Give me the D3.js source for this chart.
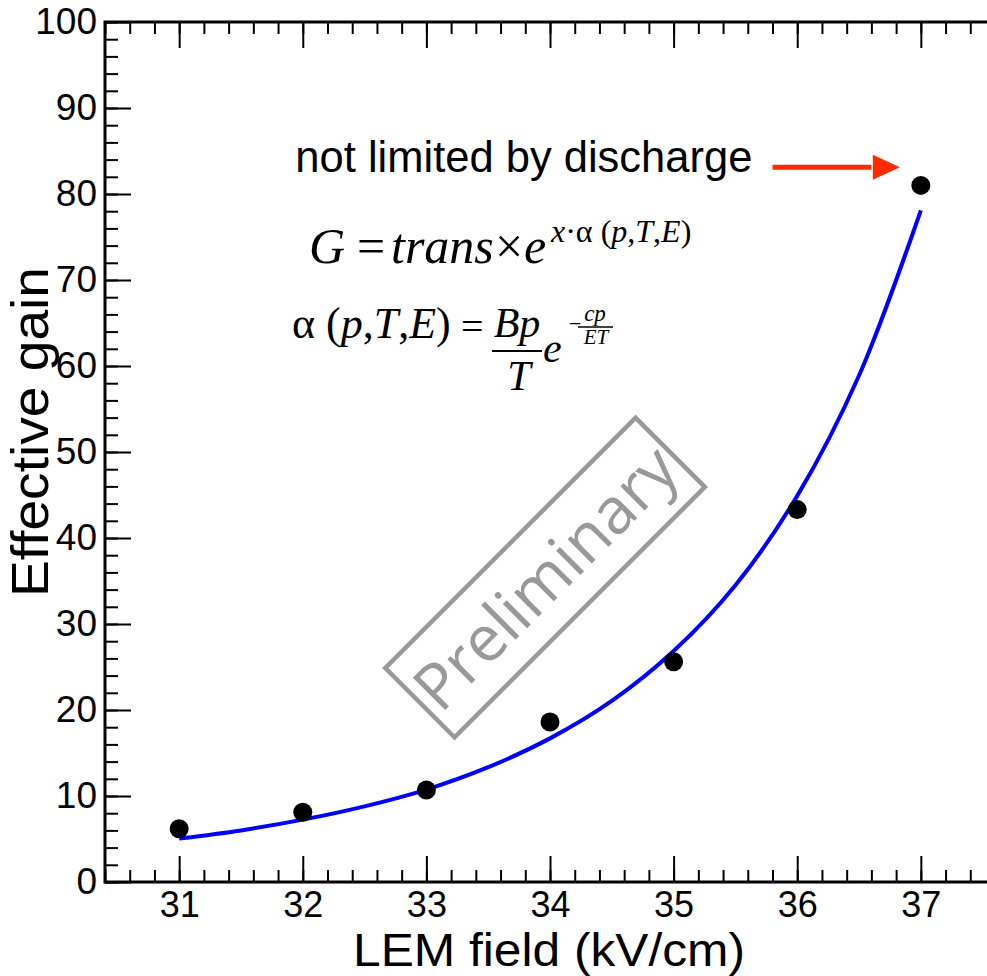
<!DOCTYPE html>
<html>
<head>
<meta charset="utf-8">
<script src="https://cdn.jsdelivr.net/npm/d3@7"></script>
<style>
  html, body { margin: 0; padding: 0; background: #fff; }
  svg { display: block; }
  .sans { font-family: "Liberation Sans", Arial, Helvetica, sans-serif; }
  .serif { font-family: "Liberation Serif", "Times New Roman", serif; }
</style>
</head>
<body>
<svg id="chart" width="987" height="976"></svg>
<script>
// LEM field (kV/cm) and measured effective gain
const fieldKV = [31, 32, 33, 34, 35, 36, 37];
const gain = [6.2, 8.1, 10.7, 18.6, 25.6, 43.3, 81.0];

// fitted gain curve, sampled along the field axis
const fitField = [31, 31.5, 32, 32.5, 33, 33.5, 34, 34.5, 35, 35.5, 36, 36.5, 37];
const fitGain = [5.05, 6.0, 7.25, 8.8, 10.75, 13.35, 16.7, 21.05, 26.85, 34.5, 44.9, 58.9, 78.1];

// axis ticks
const xMajor = [31, 32, 33, 34, 35, 36, 37];
const xMinor = d3.range(0, 37).map(i => +(30.4 + 0.2 * i).toFixed(1));
const yMajor = [0, 10, 20, 30, 40, 50, 60, 70, 80, 90, 100];
const yMinor = d3.range(0, 51).map(i => 2 * i);

const margin = { left: 105, top: 22 };
const plotW = 890, plotH = 860;

const svg = d3.select("#chart");
const x = d3.scaleLinear().domain([30.4, 37.6]).range([margin.left, margin.left + plotW]);
const y = d3.scaleLinear().domain([0, 100]).range([margin.top + plotH, margin.top]);

const x0 = margin.left;
const y0 = margin.top + plotH, y1 = margin.top;

function styleAxis(g, fontSize) {
  g.select(".domain").remove();
  g.selectAll(".tick line").attr("stroke", "#000").attr("stroke-width", 2);
  g.selectAll(".tick text")
    .attr("class", "sans")
    .attr("fill", "#000")
    .style("font-size", fontSize + "px");
}

// bottom axis: minor and major ticks pointing inward
svg.append("g").attr("transform", `translate(0,${y0})`)
  .call(d3.axisBottom(x).tickValues(xMinor).tickSize(-12).tickFormat(""))
  .call(g => styleAxis(g, 36));
svg.append("g").attr("transform", `translate(0,${y0})`)
  .call(d3.axisBottom(x).tickValues(xMajor).tickSize(-26).tickPadding(9).tickFormat(d3.format("d")))
  .call(g => styleAxis(g, 36));

// top axis: ticks only
svg.append("g").attr("transform", `translate(0,${y1})`)
  .call(d3.axisTop(x).tickValues(xMinor).tickSize(-12).tickFormat(""))
  .call(g => styleAxis(g, 36));
svg.append("g").attr("transform", `translate(0,${y1})`)
  .call(d3.axisTop(x).tickValues(xMajor).tickSize(-26).tickFormat(""))
  .call(g => styleAxis(g, 36));

// left axis
svg.append("g").attr("transform", `translate(${x0},0)`)
  .call(d3.axisLeft(y).tickValues(yMinor).tickSize(-13).tickFormat(""))
  .call(g => styleAxis(g, 37));
svg.append("g").attr("transform", `translate(${x0},0)`)
  .call(d3.axisLeft(y).tickValues(yMajor).tickSize(-26).tickPadding(8).tickFormat(d3.format("d")))
  .call(g => styleAxis(g, 37));

// frame
svg.append("rect")
  .attr("x", x0).attr("y", y1)
  .attr("width", plotW).attr("height", plotH)
  .attr("fill", "none").attr("stroke", "#000").attr("stroke-width", 3);

// axis titles
svg.append("text").attr("class", "sans")
  .attr("x", 549).attr("y", 966)
  .attr("text-anchor", "middle")
  .attr("textLength", 392).attr("lengthAdjust", "spacingAndGlyphs")
  .style("font-size", "46px")
  .text("LEM field (kV/cm)");

svg.append("text").attr("class", "sans")
  .attr("transform", "translate(48,432) rotate(-90)")
  .attr("text-anchor", "middle")
  .attr("textLength", 330).attr("lengthAdjust", "spacingAndGlyphs")
  .style("font-size", "52px")
  .text("Effective gain");

// "Preliminary" stamp
const stamp = svg.append("g")
  .attr("transform", `translate(${x(33.96)},${y(35.4)}) rotate(-45)`);
stamp.append("rect")
  .attr("x", -177).attr("y", -49).attr("width", 354).attr("height", 98)
  .attr("fill", "none").attr("stroke", "#999").attr("stroke-width", 4.5);
stamp.append("text")
  .attr("text-anchor", "middle")
  .attr("y", 23)
  .style("font-family", "'Open Sans', 'DejaVu Sans', sans-serif")
  .style("font-size", "64px")
  .attr("fill", "#999")
  .text("Preliminary");

// fit curve
const line = d3.line()
  .x((d, i) => x(fitField[i]))
  .y(d => y(d))
  .curve(d3.curveCatmullRom.alpha(0.5));
svg.append("path")
  .datum(fitGain)
  .attr("d", line)
  .attr("fill", "none")
  .attr("stroke", "#0000ff")
  .attr("stroke-width", 4);

// measured points
svg.append("g").selectAll("circle")
  .data(gain)
  .join("circle")
  .attr("cx", (d, i) => x(fieldKV[i]))
  .attr("cy", d => y(d))
  .attr("r", 9.5)
  .attr("fill", "#000");

// discharge annotation with arrow
svg.append("text").attr("class", "sans")
  .attr("x", x(31.94)).attr("y", y(82.6))
  .style("font-size", "43.5px")
  .text("not limited by discharge");

const ay = y(83.1);
svg.append("line")
  .attr("x1", x(35.8)).attr("x2", x(36.6))
  .attr("y1", ay).attr("y2", ay)
  .attr("stroke", "#ff2a00").attr("stroke-width", 5);
const tip = x(36.83);
svg.append("path")
  .attr("d", `M${tip},${ay} L${tip - 27},${ay - 12.5} L${tip - 27},${ay + 12.5} Z`)
  .attr("fill", "#ff2a00");

// helper for placing formula pieces
function put(g, tx, px, py, size, italic, anchor) {
  const t = g.append("text").attr("x", px).attr("y", py)
    .style("font-size", size + "px").text(tx);
  if (italic) t.style("font-style", "italic");
  if (anchor) t.attr("text-anchor", anchor);
  return t;
}

// gain formula: G = trans × e^{x·α(p,T,E)}
const f1 = svg.append("g").attr("class", "serif");
put(f1, "G", 309, 263, 50, true);
put(f1, "=", 357, 263, 50, false);
put(f1, "trans", 391, 263, 50, true);
put(f1, "×", 495, 263, 50, false);
put(f1, "e", 524, 263, 50, true);
const sup = f1.append("text").attr("x", 551).attr("y", 242).style("font-size", "32px");
[["x", true], ["·", false], ["α", false], [" (", false], ["p", true], [",", false],
 ["T", true], [",", false], ["E", true], [")", false]].forEach(([t, it]) => {
  const ts = sup.append("tspan").text(t);
  if (it) ts.style("font-style", "italic");
});

// Townsend coefficient formula: α(p,T,E) = Bp/T e^{-cp/ET}
const f2 = svg.append("g").attr("class", "serif");
const lhs = f2.append("text").attr("x", 292).attr("y", 338).style("font-size", "44px");
[["α", false], [" (", false], ["p", true], [",", false], ["T", true], [",", false],
 ["E", true], [")", false]].forEach(([t, it]) => {
  const ts = lhs.append("tspan").text(t);
  if (it) ts.style("font-style", "italic");
});
put(f2, "=", 461, 340, 40, false);
put(f2, "Bp", 517, 337, 42, true, "middle");
f2.append("line").attr("x1", 492).attr("x2", 542).attr("y1", 351).attr("y2", 351)
  .attr("stroke", "#000").attr("stroke-width", 2);
put(f2, "T", 519, 390, 42, true, "middle");
put(f2, "e", 543, 362, 42, true);
put(f2, "−", 569, 331, 22, false);
put(f2, "cp", 595, 321, 23, true, "middle");
f2.append("line").attr("x1", 578).attr("x2", 613).attr("y1", 327).attr("y2", 327)
  .attr("stroke", "#000").attr("stroke-width", 1.3);
put(f2, "ET", 596, 344, 21, true, "middle");
</script>
</body>
</html>
